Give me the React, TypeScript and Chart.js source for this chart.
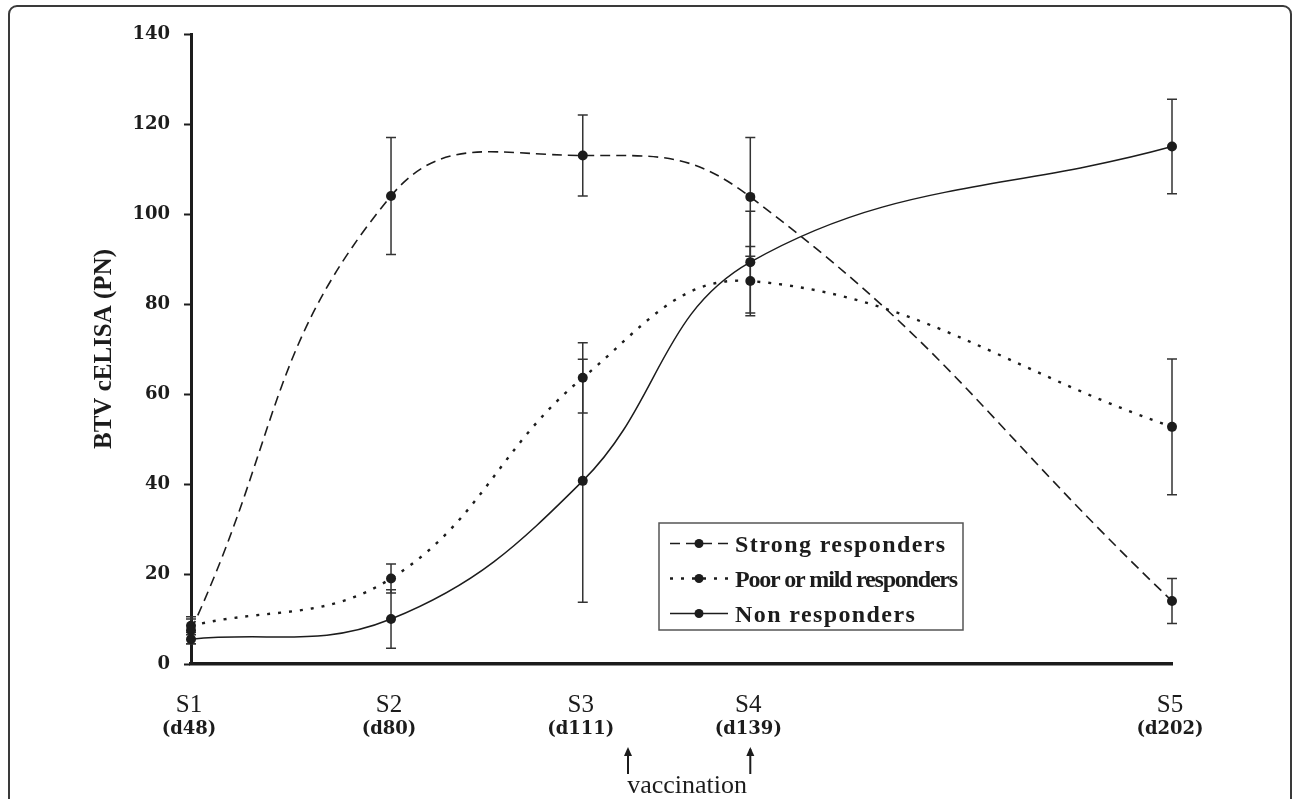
import React, { useEffect, useRef } from "react";
import { Chart, registerables } from "chart.js";

Chart.register(...registerables);

// Sampling times (position on the time axis) and their labels
const sampleNames = ["S1", "S2", "S3", "S4", "S5"];
const sampleDays = ["(d48)", "(d80)", "(d111)", "(d139)", "(d202)"];
const sampleX = [48, 79.4, 109.5, 135.8, 202];

// Series: mean BTV cELISA (PN) and error (±)
const seriesNames = ["Strong responders", "Poor or mild responders", "Non responders"];
const strongMean = [7.5, 104, 113, 103.8, 14];
const strongErr = [3, 13, 9, 13.2, 5];
const poorMean = [8.5, 19, 63.6, 85.1, 52.7];
const poorErr = [1.5, 3.2, 7.8, 7.7, 15.1];
const nonMean = [5.5, 10, 40.7, 89.3, 115];
const nonErr = [1, 6.5, 27, 11.3, 10.5];

// Vaccination times (arrows under the axis)
const vaccinationX = [116.6, 135.8];
const vaccinationLabel = "vaccination";

// Y axis
const yMin = 0;
const yMax = 140;
const yStep = 20;
const yTitle = "BTV cELISA (PN)";

const INK = "#1c1c1c";

export default function App() {
  const ref = useRef<HTMLCanvasElement>(null);

  useEffect(() => {
    const canvas = ref.current;
    if (!canvas) return;

    const means = [strongMean, poorMean, nonMean];
    const errs = [strongErr, poorErr, nonErr];
    const dashes: number[][] = [[10, 6], [3, 8], []];
    const widths = [1.6, 2.4, 1.5];
    const tensions = [0.45, 0.4, 0.4];

    const errorBars = {
      id: "errorBars",
      beforeDatasetsDraw(chart: any) {
        const { ctx } = chart;
        const xs = chart.scales.x;
        const ys = chart.scales.y;
        ctx.save();
        ctx.strokeStyle = "#333";
        ctx.lineWidth = 1.5;
        ctx.setLineDash([]);
        means.forEach((m, d) => {
          m.forEach((v, i) => {
            const px = xs.getPixelForValue(sampleX[i]);
            const top = ys.getPixelForValue(v + errs[d][i]);
            const bot = ys.getPixelForValue(v - errs[d][i]);
            ctx.beginPath();
            ctx.moveTo(px, top);
            ctx.lineTo(px, bot);
            ctx.moveTo(px - 5, top);
            ctx.lineTo(px + 5, top);
            ctx.moveTo(px - 5, bot);
            ctx.lineTo(px + 5, bot);
            ctx.stroke();
          });
        });
        ctx.restore();
      },
    };

    const xLabels = {
      id: "xLabels",
      afterDraw(chart: any) {
        const { ctx, chartArea } = chart;
        const xs = chart.scales.x;
        const b = chartArea.bottom;
        ctx.save();
        ctx.fillStyle = INK;
        ctx.textAlign = "center";
        ctx.textBaseline = "alphabetic";
        sampleNames.forEach((n, i) => {
          const px = xs.getPixelForValue(sampleX[i]) - 2;
          ctx.font = '25px "Liberation Serif"';
          ctx.fillText(n, px, b + 48);
          ctx.font = 'bold 18px "DejaVu Serif"';
          ctx.fillText(sampleDays[i], px, b + 70);
        });
        // vaccination arrows
        ctx.strokeStyle = INK;
        ctx.lineWidth = 2;
        const ax = vaccinationX.map((v) => xs.getPixelForValue(v));
        ax.forEach((px) => {
          ctx.beginPath();
          ctx.moveTo(px, b + 85);
          ctx.lineTo(px, b + 110);
          ctx.stroke();
          ctx.beginPath();
          ctx.moveTo(px, b + 83);
          ctx.lineTo(px - 4, b + 92);
          ctx.lineTo(px + 4, b + 92);
          ctx.closePath();
          ctx.fill();
        });
        ctx.font = '26px "Liberation Serif"';
        ctx.fillText(vaccinationLabel, (ax[0] + ax[1]) / 2 - 2, b + 129);
        ctx.restore();
      },
    };

    const legendBox = {
      id: "legendBox",
      afterDraw(chart: any) {
        const { ctx, chartArea } = chart;
        const left = chartArea.left + 468;
        const top = chartArea.top + 489;
        const w = 304;
        const h = 107;
        ctx.save();
        ctx.fillStyle = "#fff";
        ctx.fillRect(left, top, w, h);
        ctx.strokeStyle = "#555";
        ctx.lineWidth = 1.5;
        ctx.strokeRect(left, top, w, h);
        const baselines = [29, 64, 99];
        const spacing = [1.4, -1.2, 1.4];
        seriesNames.forEach((name, i) => {
          const yb = top + baselines[i];
          const yl = yb - 8.5;
          ctx.strokeStyle = INK;
          ctx.lineWidth = widths[i];
          ctx.setLineDash(dashes[i]);
          ctx.beginPath();
          ctx.moveTo(left + 11, yl);
          ctx.lineTo(left + 69, yl);
          ctx.stroke();
          ctx.setLineDash([]);
          ctx.fillStyle = INK;
          ctx.beginPath();
          ctx.arc(left + 40, yl, 4.5, 0, Math.PI * 2);
          ctx.fill();
          ctx.font = 'bold 24px "Liberation Serif"';
          (ctx as any).letterSpacing = spacing[i] + "px";
          ctx.textAlign = "left";
          ctx.textBaseline = "alphabetic";
          ctx.fillText(name, left + 76, yb);
          (ctx as any).letterSpacing = "0px";
        });
        ctx.restore();
      },
    };

    const chart = new Chart(canvas, {
      type: "line",
      data: {
        datasets: means.map((m, d) => ({
          label: seriesNames[d],
          data: m.map((v, i) => ({ x: sampleX[i], y: v })),
          borderColor: INK,
          borderWidth: widths[d],
          borderDash: dashes[d],
          tension: tensions[d],
          fill: false,
          pointRadius: 5,
          pointHoverRadius: 5,
          pointBackgroundColor: INK,
          pointBorderWidth: 0,
          clip: false as any,
        })),
      },
      options: {
        responsive: false,
        animation: false,
        events: [],
        layout: { padding: { left: 0, top: 34, right: 121, bottom: 0 } },
        plugins: {
          legend: { display: false },
          tooltip: { enabled: false },
          title: { display: false },
        },
        scales: {
          x: {
            type: "linear",
            min: sampleX[0],
            max: sampleX[sampleX.length - 1],
            grid: { display: false },
            ticks: { display: false },
            border: { display: true, color: INK, width: 3.5 },
            afterFit: (s: any) => {
              s.height = 135;
            },
          },
          y: {
            type: "linear",
            min: yMin,
            max: yMax,
            ticks: {
              stepSize: yStep,
              color: INK,
              padding: 14,
              font: { family: '"DejaVu Serif"', weight: "bold", size: 18 },
            },
            grid: {
              display: true,
              drawOnChartArea: false,
              drawTicks: true,
              tickLength: 7,
              tickWidth: 2,
              tickColor: INK,
            },
            border: { display: true, color: INK, width: 3 },
            title: {
              display: true,
              text: yTitle,
              color: INK,
              font: { family: '"Liberation Serif"', weight: "bold", size: 25 },
              padding: { top: 90, bottom: 0 },
            },
            afterFit: (s: any) => {
              s.width = 191;
            },
          },
        },
      },
      plugins: [errorBars, xLabels, legendBox],
    });

    return () => chart.destroy();
  }, []);

  return (
    <>
      <div
        style={{
          position: "fixed",
          left: 8,
          top: 5,
          width: 1284,
          height: 860,
          border: "2px solid #3a3a3a",
          borderRadius: 9,
          boxSizing: "border-box",
        }}
      />
      <canvas
        ref={ref}
        width={1293}
        height={799}
        style={{ position: "fixed", left: 0, top: 0, width: 1293, height: 799 }}
      />
    </>
  );
}
